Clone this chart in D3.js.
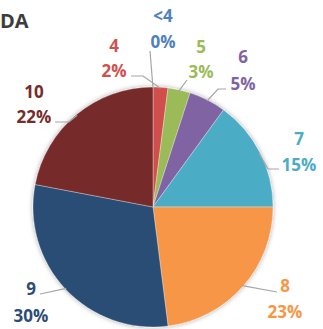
<!DOCTYPE html>
<html>
<head>
<meta charset="utf-8">
<script src="https://cdn.jsdelivr.net/npm/d3@7/dist/d3.min.js"></script>
<style>
  html, body { margin: 0; padding: 0; background: #fff; }
  svg { display: block; }
  text { font-family: "Open Sans", sans-serif; font-weight: 700; }
</style>
</head>
<body>
<svg id="chart" width="323" height="329"></svg>
<script>
// Age groups and their shares (%)
const categories = ["<4", "4", "5", "6", "7", "8", "9", "10"];
const shares = [0, 2, 3, 5, 15, 23, 30, 22];
const shareLabels = ["0%", "2%", "3%", "5%", "15%", "23%", "30%", "22%"];
const sliceColors = ["#4f81bd", "#d0504d", "#9bbb59", "#8064a2", "#4bacc6", "#f79646", "#2c4d75", "#772c2a"];
const textColors  = ["#4f81bd", "#d0504d", "#9bbb59", "#8064a2", "#4bacc6", "#f79646", "#2c4d75", "#772c2a"];

// Label placement: centre x, baselines of the two lines, leader-line end and optional elbow
const labelLayout = [
  { x: 163, y1: 22,  y2: 48,  end: [150, 51],  elbow: null },
  { x: 114, y1: 52,  y2: 77,  end: [131, 76],  elbow: [143, 76] },
  { x: 201, y1: 53,  y2: 78,  end: [187, 80],  elbow: null },
  { x: 243, y1: 63,  y2: 90,  end: [226, 89],  elbow: [218, 89] },
  { x: 299, y1: 145, y2: 171, end: [279, 169], elbow: [268, 169] },
  { x: 285, y1: 292, y2: 318, end: [277, 292], elbow: null },
  { x: 31,  y1: 295, y2: 322, end: [40, 294],  elbow: null },
  { x: 34,  y1: 98,  y2: 123, end: [55, 122],  elbow: [69, 122] }
];

const svg = d3.select("#chart");
const cx = 153, cy = 207, r = 120;

// Soft shadow under the pie
const defs = svg.append("defs");
const f = defs.append("filter").attr("id", "shadow")
  .attr("x", "-20%").attr("y", "-20%").attr("width", "140%").attr("height", "140%");
f.append("feGaussianBlur").attr("in", "SourceAlpha").attr("stdDeviation", 2.5).attr("result", "b");
f.append("feComponentTransfer").attr("in", "b").attr("result", "s")
  .append("feFuncA").attr("type", "linear").attr("slope", 0.35);
const m = f.append("feMerge");
m.append("feMergeNode").attr("in", "s");
m.append("feMergeNode").attr("in", "SourceGraphic");

// Title
svg.append("text")
  .attr("x", 0).attr("y", 28)
  .attr("text-anchor", "start")
  .attr("fill", "#3d3d3d")
  .style("font-size", "20px")
  .text("DA");

const data = categories.map((c, i) => ({ cat: c, value: shares[i], label: shareLabels[i], i }));

const pie = d3.pie().sort(null).value(d => d.value);
const arcs = pie(data);
const arc = d3.arc().innerRadius(0).outerRadius(r);

const g = svg.append("g").attr("transform", `translate(${cx},${cy})`);
g.append("g").attr("filter", "url(#shadow)")
  .selectAll("path")
  .data(arcs.filter(a => a.data.value > 0))
  .join("path")
  .attr("d", arc)
  .attr("fill", d => sliceColors[d.data.i])
  .attr("stroke", "rgba(255,255,255,0.45)")
  .attr("stroke-width", 0.7);

// Leader lines from each slice's outer edge to its label
const line = d3.line();
arcs.forEach(a => {
  const L = labelLayout[a.data.i];
  const mid = (a.startAngle + a.endAngle) / 2;
  const p0 = [cx + Math.sin(mid) * (r - 1), cy - Math.cos(mid) * (r - 1)];
  const pts = [p0];
  if (L.elbow) pts.push(L.elbow);
  pts.push(L.end);
  svg.append("path")
    .attr("d", line(pts))
    .attr("fill", "none")
    .attr("stroke", "#a6a6a6")
    .attr("stroke-width", 1.2);
});

// Category and percentage labels
const lab = svg.append("g").selectAll("g").data(data).join("g");
lab.append("text")
  .attr("x", d => labelLayout[d.i].x)
  .attr("y", d => labelLayout[d.i].y1)
  .attr("text-anchor", "middle")
  .attr("fill", d => textColors[d.i])
  .style("font-size", "17px")
  .text(d => d.cat);
lab.append("text")
  .attr("x", d => labelLayout[d.i].x)
  .attr("y", d => labelLayout[d.i].y2)
  .attr("text-anchor", "middle")
  .attr("fill", d => textColors[d.i])
  .style("font-size", "17px")
  .text(d => d.label);
</script>
</body>
</html>
